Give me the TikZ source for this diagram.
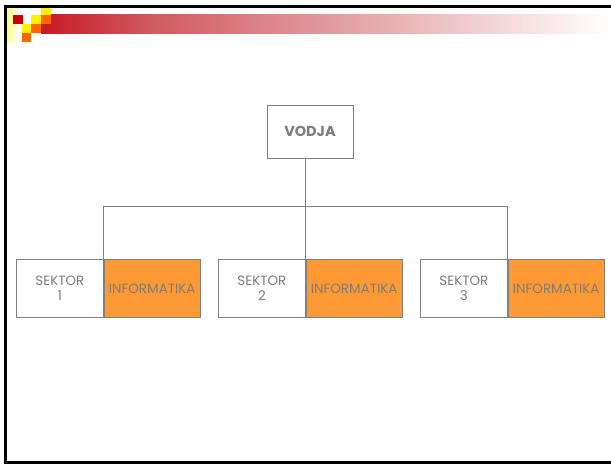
\documentclass[tikz,border=0pt]{standalone}
\usepackage{fontspec}
\setmainfont{Poppins}
\usetikzlibrary{positioning}
\definecolor{textgray}{RGB}{125,125,125}
\definecolor{linegray}{RGB}{128,128,128}
\definecolor{infoorange}{RGB}{255,153,51}
\definecolor{barred}{RGB}{200,25,35}
\definecolor{barpink}{RGB}{208,90,95}
\definecolor{sqred}{RGB}{204,0,0}
\definecolor{sqorange}{RGB}{255,102,0}
\begin{document}
\begin{tikzpicture}[x=1bp, y=-1bp,
    box/.style={draw=linegray, line width=0.8bp, text=textgray, inner sep=0pt,
      minimum height=58bp, font=\fontsize{13.5}{15}\selectfont, align=center},
    sektor/.style={box, minimum width=87bp, fill=white},
    info/.style={box, minimum width=96bp, fill=infoorange},
    wire/.style={draw=linegray, line width=0.8bp}]
    \useasboundingbox (0,0) rectangle (611,464);
    \fill[white] (0,0) rectangle (611,464);

    % header bar
    \shade[left color=barred, right color=barpink] (41,15) rectangle (150,33.5);
    \shade[left color=barpink, right color=white] (149.5,15) rectangle (611,33.5);
    \shade[left color=yellow!55, right color=white] (6,8) rectangle (19,42);
    \fill[sqred] (13,15) rectangle (22.5,24);
    \fill[yellow] (31,15) rectangle (41,24);
    \fill[yellow] (41,8) rectangle (51,15);
    \fill[sqorange] (41,15) rectangle (51,24);
    \fill[yellow] (22,24) rectangle (31,33);
    \fill[sqorange] (31,24) rectangle (41,33);
    \fill[sqorange] (22,33) rectangle (31,42);

    % frame
    \draw[line width=3bp] (611,7) -- (5.5,7) -- (5.5,462) -- (611,462);

    % chart
    \node[box, minimum width=86bp, minimum height=53bp, font=\fontsize{14.5}{16}\selectfont\bfseries] (boss) at (310,131.5) {VODJA};
    \node[sektor, anchor=north west] (sec1) at (16,259) {SEKTOR\\1};
    \node[info, right=0pt of sec1] (inf1) {INFORMATIKA};
    \node[sektor, anchor=north west] (sec2) at (218,259) {SEKTOR\\2};
    \node[info, right=0pt of sec2] (inf2) {INFORMATIKA};
    \node[sektor, anchor=north west] (sec3) at (420,259) {SEKTOR\\3};
    \node[info, right=0pt of sec3] (inf3) {INFORMATIKA};

    \draw[wire] (boss.south -| inf2.north west) -- (inf2.north west);
    \draw[wire] (inf1.north west) -- ++(0,-53) -| (inf3.north west);
  \end{tikzpicture}
\end{document}
